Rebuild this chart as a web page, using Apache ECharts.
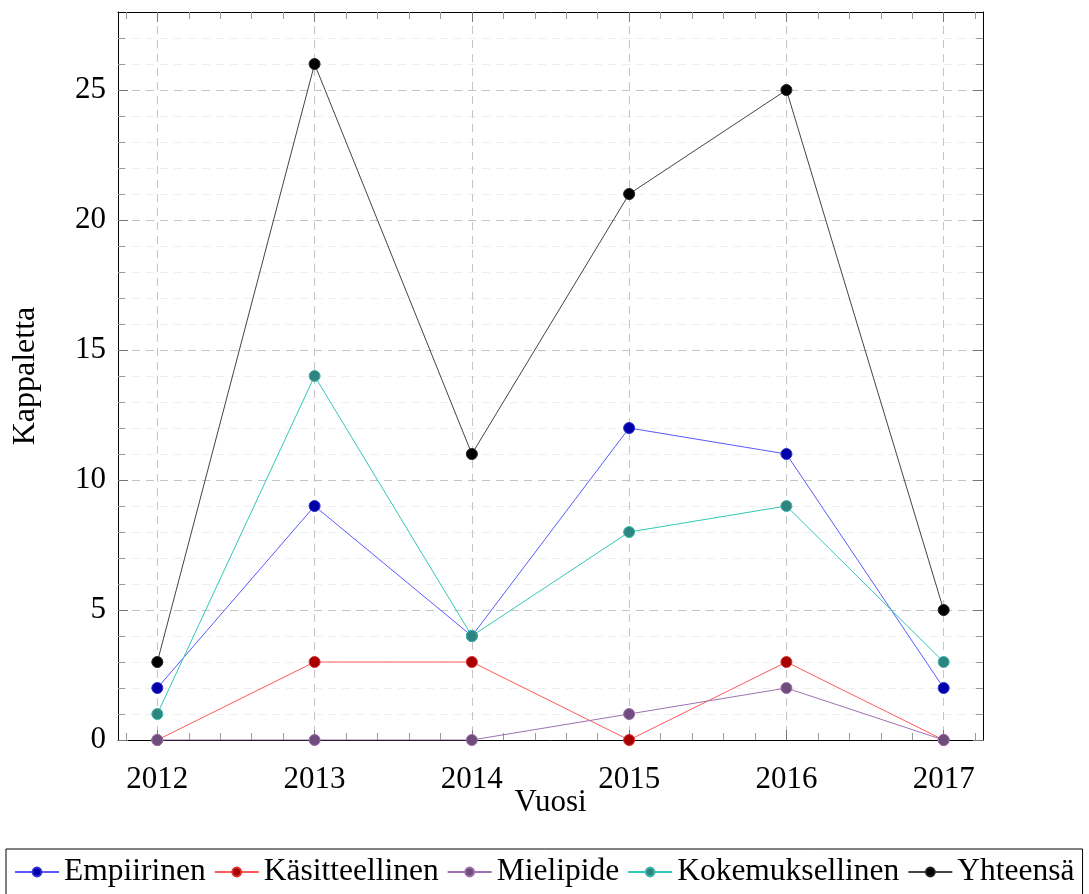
<!DOCTYPE html>
<html>
<head>
<meta charset="utf-8">
<script src="https://cdn.jsdelivr.net/npm/echarts@6/dist/echarts.min.js"></script>
<style>
  html, body { margin: 0; padding: 0; background: #fff; }
  #chart { width: 1089px; height: 894px; }
</style>
</head>
<body>
<div id="chart"></div>
<script>
// data
const years = [2012, 2013, 2014, 2015, 2016, 2017];
const empiirinen = [2, 9, 4, 12, 11, 2];
const kasitteellinen = [0, 3, 3, 0, 3, 0];
const mielipide = [0, 0, 0, 1, 2, 0];
const kokemuksellinen = [1, 14, 4, 8, 9, 3];
const yhteensa = [3, 26, 11, 21, 25, 5];

const yMajor = [0, 5, 10, 15, 20, 25];

const FONT = 'Liberation Serif';
const X_MIN = 2011.75, X_MAX = 2017.25, Y_MIN = 0, Y_MAX = 28;

// minor tick positions (4 between years on x, every unit on y)
const xMinor = [];
for (let i = 0; i < years.length; i++) {
  for (let k = -1; k <= 4; k++) {
    const v = +(years[i] + k * 0.2).toFixed(2);
    if (k !== 0 && v > X_MIN && v < X_MAX && xMinor.indexOf(v) < 0) xMinor.push(v);
  }
}
const yMinor = [];
for (let v = 1; v < Y_MAX; v++) if (v % 5 !== 0) yMinor.push(v);

function pairs(vals) {
  return vals.map((v, i) => [years[i], v]);
}

const seriesDefs = [
  { name: 'Empiirinen', data: empiirinen, line: '#5a5aff', fill: '#0000a8', rim: '#3030d0' },
  { name: 'Käsitteellinen', data: kasitteellinen, line: '#ff5a5a', fill: '#a80000', rim: '#d83030' },
  { name: 'Mielipide', data: mielipide, line: '#a070b0', fill: '#6e4c7c', rim: '#9a70aa' },
  { name: 'Kokemuksellinen', data: kokemuksellinen, line: '#30c8b8', fill: '#2e8480', rim: '#40b8a8' },
  { name: 'Yhteensä', data: yhteensa, line: '#444444', fill: '#000000', rim: '#222222' }
];

const hidden = { show: false };
function xAx(pos, ticks, len, major) {
  return {
    type: 'value', position: pos, min: X_MIN, max: X_MAX,
    axisLine: { show: major, onZero: false, lineStyle: { color: '#000', width: 1 } },
    axisTick: { show: true, inside: true, length: len, customValues: ticks,
      lineStyle: { color: major ? '#777' : '#999' } },
    axisLabel: (pos === 'bottom' && major) ? {
      customValues: years, margin: 24, color: '#000', fontFamily: FONT, fontSize: 31,
      formatter: v => String(v)
    } : hidden,
    splitLine: (pos === 'bottom' && major) ? {
      show: true, lineStyle: { color: '#c4c4c4', type: [8, 6], width: 1 }
    } : hidden
  };
}
function yAx(pos, ticks, len, major) {
  const left = pos === 'left';
  return {
    type: 'value', position: pos, min: Y_MIN, max: Y_MAX,
    axisLine: { show: major, onZero: false, lineStyle: { color: '#000', width: 1 } },
    axisTick: { show: true, inside: true, length: len, customValues: ticks,
      lineStyle: { color: major ? '#777' : '#999' } },
    axisLabel: (left && major) ? {
      customValues: yMajor, margin: 12, color: '#000', fontFamily: FONT, fontSize: 31
    } : hidden,
    splitLine: left ? {
      show: true,
      lineStyle: major ? { color: '#c4c4c4', type: [8, 6], width: 1 }
                       : { color: '#eeeeee', type: [8, 6], width: 1 }
    } : hidden
  };
}

const xAxes = [
  xAx('bottom', years, 10, true),
  xAx('bottom', xMinor, 7, false),
  xAx('top', years, 10, true),
  xAx('top', xMinor, 7, false)
];
xAxes[0].name = 'Vuosi';
xAxes[0].nameLocation = 'middle';
xAxes[0].nameGap = 47;
xAxes[0].nameMoveOverlap = false;
xAxes[0].nameTextStyle = { color: '#000', fontFamily: FONT, fontSize: 31 };

const yAxes = [
  yAx('left', yMajor, 10, true),
  yAx('left', yMinor, 7, false),
  yAx('right', yMajor, 10, true),
  yAx('right', yMinor, 7, false)
];
yAxes[0].name = 'Kappaletta';
yAxes[0].nameLocation = 'middle';
yAxes[0].nameGap = 76;
yAxes[0].nameMoveOverlap = false;
yAxes[0].nameTextStyle = { color: '#000', fontFamily: FONT, fontSize: 32 };

const chart = echarts.init(document.getElementById('chart'), null, { renderer: 'canvas' });
chart.setOption({
  animation: false,
  backgroundColor: '#fff',
  grid: { left: 118, right: 106, top: 12, bottom: 154, containLabel: false },
  xAxis: xAxes,
  yAxis: yAxes,
  legend: {
    left: 6, top: 849,
    padding: [7, 8, 14, 8],
    borderColor: '#000', borderWidth: 1,
    itemWidth: 44, itemHeight: 11, itemGap: 8,
    textStyle: { color: '#000', fontFamily: FONT, fontSize: 31.5 },
    data: seriesDefs.map(s => s.name)
  },
  series: seriesDefs.map(s => ({
    name: s.name,
    type: 'line',
    xAxisIndex: 0, yAxisIndex: 0,
    data: pairs(s.data),
    symbol: 'circle',
    symbolSize: 11,
    lineStyle: { color: s.line, width: 1 },
    itemStyle: { color: s.fill, borderColor: s.rim, borderWidth: 1 },
    emphasis: { disabled: true }
  }))
});
</script>
</body>
</html>
